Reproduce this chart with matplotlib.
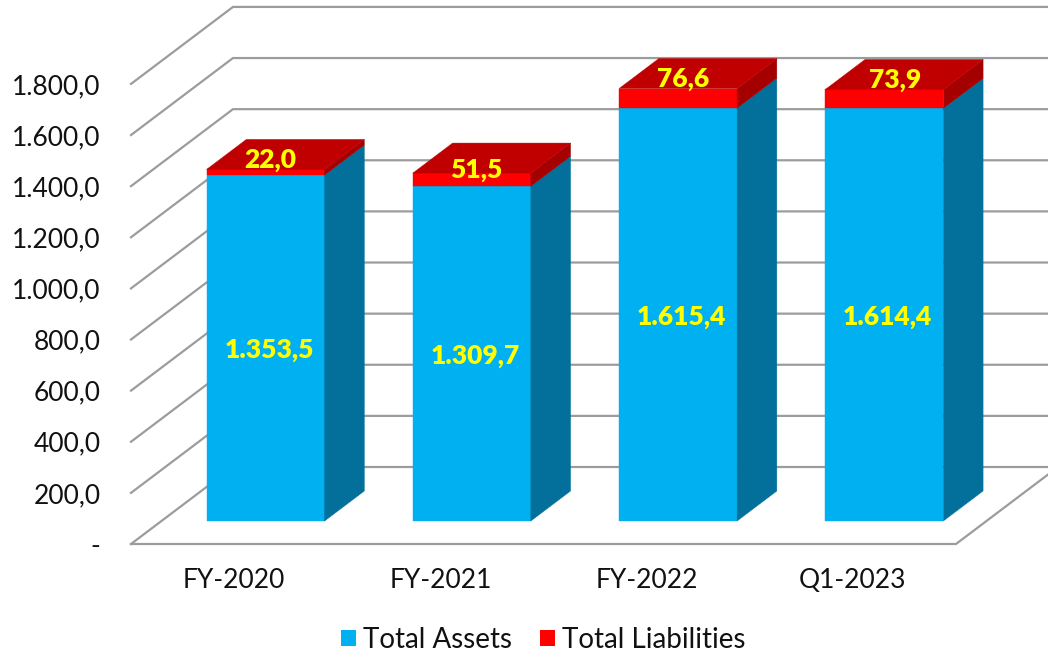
import matplotlib
matplotlib.use("Agg")
import matplotlib.pyplot as plt
from matplotlib.patches import Polygon, Patch

categories = ["FY-2020", "FY-2021", "FY-2022", "Q1-2023"]
total_assets = [1353.5, 1309.7, 1615.4, 1614.4]
total_liabilities = [22.0, 51.5, 76.6, 73.9]
assets_labels = ["1.353,5", "1.309,7", "1.615,4", "1.614,4"]
liabilities_labels = ["22,0", "51,5", "76,6", "73,9"]
y_ticks = [0, 200, 400, 600, 800, 1000, 1200, 1400, 1600, 1800]
y_tick_labels = ["-", "200,0", "400,0", "600,0", "800,0", "1.000,0", "1.200,0", "1.400,0", "1.600,0", "1.800,0"]

plt.rcParams["font.family"] = ["Lato", "DejaVu Sans"]
W, H = 1048, 652
fig = plt.figure(figsize=(W / 100, H / 100), dpi=100)
ax = fig.add_axes([0, 0, 1, 1])

# scales
PX_CAT = 206.25
PX_VAL = 0.2556
X0, Y0 = 131, 544
ax.set_xlim(-X0 / PX_CAT, (W - X0) / PX_CAT)
ax.set_ylim(-(H - Y0) / PX_VAL, Y0 / PX_VAL)

# oblique depth of the floor, in data units
DX = 102 / PX_CAT
DV = 77 / PX_VAL


def proj(x, v, d):
    return (x + d * DX, v + d * DV)


GRID = "#9C9C9C"
LW = 1.6
for t in y_ticks:
    xs, ys = zip(proj(0, t, 0), proj(0, t, 1), proj(4, t, 1))
    ax.plot(xs, ys, color=GRID, lw=LW, zorder=1, solid_joinstyle="miter")
xs, ys = zip(proj(0, 0, 0), proj(4, 0, 0), proj(4, 0, 1))
ax.plot(xs, ys, color=GRID, lw=LW, zorder=1, solid_joinstyle="miter")

BLUE, BLUE_SIDE = "#00B0F0", "#02709B"
RED, RED_TOP, RED_SIDE = "#FF0000", "#C00000", "#A50000"
D0, D1 = 23 / 77, 53 / 77
BAR_W = 118 / PX_CAT
BAR_SHIFT = 1 / PX_CAT
TEXT = "#111111"
LABEL_SIZE = 19
# fine placement of the small labels, in points
LIAB_NUDGE = [(3.0, 6.5), (3.5, 2.5), (3.5, 6.5), (7.5, 7.0)]


def face(pts, color):
    ax.add_patch(Polygon(pts, closed=True, facecolor=color, edgecolor=color, lw=0.3, zorder=3))


for i, (a, b) in enumerate(zip(total_assets, total_liabilities)):
    c = i + 0.5 + BAR_SHIFT
    l, r = c - BAR_W / 2, c + BAR_W / 2
    top = a + b
    face([proj(l, 0, D0), proj(r, 0, D0), proj(r, a, D0), proj(l, a, D0)], BLUE)
    face([proj(r, 0, D0), proj(r, 0, D1), proj(r, a, D1), proj(r, a, D0)], BLUE_SIDE)
    face([proj(l, a, D0), proj(r, a, D0), proj(r, top, D0), proj(l, top, D0)], RED)
    face([proj(r, a, D0), proj(r, a, D1), proj(r, top, D1), proj(r, top, D0)], RED_SIDE)
    face([proj(l, top, D0), proj(r, top, D0), proj(r, top, D1), proj(l, top, D1)], RED_TOP)

    cx, cy = proj(c, a / 2, D0)
    ax.annotate(assets_labels[i], (cx, cy), xytext=(2.5, -1.5), textcoords="offset points",
                ha="center", va="center", color="#FFFF00", fontsize=LABEL_SIZE,
                fontweight="heavy", zorder=5)
    cx, cy = proj(c, top, D0)
    ax.annotate(liabilities_labels[i], (cx, cy), xytext=LIAB_NUDGE[i], textcoords="offset points",
                ha="center", va="center", color="#FFFF00", fontsize=LABEL_SIZE,
                fontweight="heavy", zorder=5)

# real axis ticks
ax.spines["left"].set_position(("data", 0))
ax.spines["bottom"].set_position(("data", 0))
for s in ax.spines.values():
    s.set_visible(False)
ax.set_yticks(y_ticks, y_tick_labels)
ax.set_xticks([i + 0.5 for i in range(len(categories))], categories)
ax.tick_params(axis="y", length=0, pad=22, labelsize=19, labelcolor=TEXT)
ax.tick_params(axis="x", length=0, pad=17, labelsize=19, labelcolor=TEXT)
ax.patch.set_visible(False)

handles = [Patch(facecolor=BLUE, label="Total Assets"), Patch(facecolor=RED, label="Total Liabilities")]
ax.legend(handles=handles, loc="center", bbox_to_anchor=(543 / W, 1 - 640 / H), ncol=2,
          frameon=False, fontsize=20, handlelength=0.54, handleheight=0.54,
          handletextpad=0.25, columnspacing=1.0, labelcolor=TEXT,
          borderpad=0, borderaxespad=0)

fig.savefig("out.png", dpi=100, facecolor="white")
